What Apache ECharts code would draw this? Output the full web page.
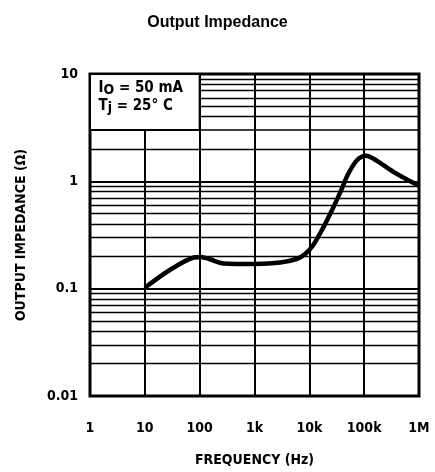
<!DOCTYPE html>
<html>
<head>
<meta charset="utf-8">
<script src="https://cdn.jsdelivr.net/npm/echarts@6/dist/echarts.min.js"></script>
<style>html,body{margin:0;padding:0;background:#fff}#c{width:435px;height:472px}</style>
</head>
<body>
<div id="c"></div>
<script>
// ---- data ----
const frequencyHz = [10, 29, 78, 103, 157, 272, 1000, 2950, 6000, 8400, 11800, 17900, 27200, 39700, 51000, 74500, 109000, 172000, 337000, 689000, 1000000];
const impedanceOhm = [0.102, 0.150, 0.195, 0.197, 0.187, 0.172, 0.170, 0.175, 0.190, 0.210, 0.255, 0.370, 0.567, 0.870, 1.17, 1.58, 1.73, 1.55, 1.23, 1.00, 0.91];
const xTickLabels = {1: '1', 10: '10', 100: '100', 1000: '1k', 10000: '10k', 100000: '100k', 1000000: '1M'};
const yTickLabels = {0.01: '0.01', 0.1: '0.1', 1: '1', 10: '10'};
const minorY = [0.02,0.03,0.04,0.05,0.06,0.07,0.08,0.09, 0.2,0.3,0.4,0.5,0.6,0.7,0.8,0.9, 2, 4,5,6,7,8,9];
const boxBottomY = 3;

const FONT = "'Liberation Sans Narrow','DejaVu Sans Condensed','Liberation Sans',sans-serif";
const chart = echarts.init(document.getElementById('c'));
const lbl = v => {
  for (const k in xTickLabels) if (Math.abs(Math.log10(v) - Math.log10(+k)) < 1e-6) return xTickLabels[k];
  return '';
};
const lblY = v => {
  for (const k in yTickLabels) if (Math.abs(Math.log10(v) - Math.log10(+k)) < 1e-6) return yTickLabels[k];
  return '';
};
chart.setOption({
  animation: false,
  title: {
    text: 'Output Impedance', left: 'center', top: 10,
    textStyle: {fontFamily: "'Liberation Sans',Arial,sans-serif", fontWeight: 'bold', fontSize: 16, color: '#000'}
  },
  grid: {left: 90, right: 16, top: 74, bottom: 71, show: true, borderColor: '#000', borderWidth: 3, backgroundColor: 'transparent'},
  xAxis: {
    type: 'log', logBase: 10, min: 1, max: 1000000,
    name: 'FREQUENCY (Hz)', nameLocation: 'middle', nameGap: 57,
    nameTextStyle: {fontFamily: FONT, fontWeight: 'bold', fontSize: 14, color: '#000'},
    axisLine: {show: false}, axisTick: {show: false},
    axisLabel: {formatter: lbl, margin: 25, fontFamily: FONT, fontWeight: 'bold', fontSize: 14, color: '#000'},
    splitLine: {show: true, lineStyle: {color: '#000', width: 2}}
  },
  yAxis: {
    type: 'log', logBase: 10, min: 0.01, max: 10,
    name: 'OUTPUT IMPEDANCE (Ω)', nameLocation: 'middle', nameGap: 62, nameRotate: 90,
    nameTextStyle: {fontFamily: FONT, fontWeight: 'bold', fontSize: 14, color: '#000'},
    axisLine: {show: false}, axisTick: {show: false},
    axisLabel: {formatter: lblY, margin: 12, fontFamily: FONT, fontWeight: 'bold', fontSize: 14, color: '#000'},
    splitLine: {show: true, lineStyle: {color: '#000', width: 2}}
  },
  series: [
    {
      type: 'line', data: [], silent: true,
      markLine: {
        silent: true, symbol: 'none', z: 2, label: {show: false},
        lineStyle: {color: '#000', width: 1.3, type: 'solid'},
        data: minorY.map(v => ({yAxis: v}))
      }
    },
    {
      type: 'line', data: [], silent: true,
      markArea: {
        silent: true, z: 3,
        itemStyle: {color: '#fff', borderColor: '#000', borderWidth: 2},
        label: {show: false},
        data: [[{coord: [1, boxBottomY]}, {coord: [100, 10]}]]
      },
      markPoint: {
        silent: true, z: 6,
        data: [{
          coord: [1, 10], symbol: 'rect', symbolSize: 1,
          itemStyle: {color: 'rgba(0,0,0,0)'},
          label: {
            show: true, position: [9, 6], align: 'left',
            formatter: '{a|I}{s|O}{a| = 50 mA}\n{a|T}{s|j}{a| = 25° C}',
            rich: {
              a: {fontFamily: FONT, fontWeight: 'bold', fontSize: 15, color: '#000', lineHeight: 18},
              s: {fontFamily: FONT, fontWeight: 'bold', fontSize: 14, color: '#000', lineHeight: 18, verticalAlign: 'bottom', padding: [6, 0, 0, 0]}
            }
          }
        }]
      }
    },
    {
      type: 'line', z: 5,
      data: frequencyHz.map((f, i) => [f, impedanceOhm[i]]),
      smooth: 0.3, showSymbol: false, silent: true,
      lineStyle: {color: '#000', width: 4.5},
      markLine: {
        silent: true, symbol: 'none', z: 4, label: {show: false},
        lineStyle: {color: '#000', width: 1.5, type: 'solid'},
        data: [{yAxis: boxBottomY}, {xAxis: 100}]
      }
    }
  ]
});
</script>
</body>
</html>
